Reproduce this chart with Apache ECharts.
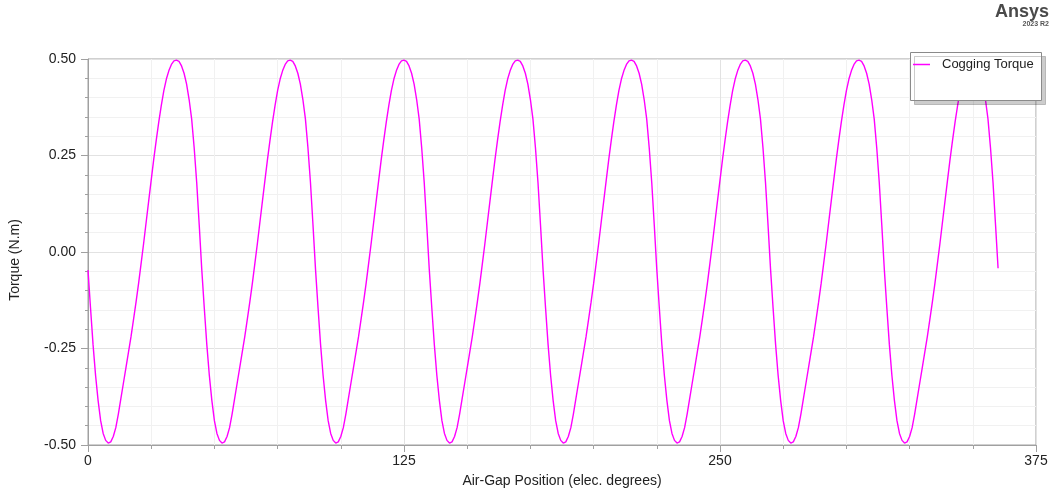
<!DOCTYPE html>
<html>
<head>
<meta charset="utf-8">
<script src="https://cdn.jsdelivr.net/npm/echarts@6/dist/echarts.min.js"></script>
<style>
  html, body { margin: 0; padding: 0; background: #ffffff; }
  #chart { width: 1055px; height: 497px; }
</style>
</head>
<body>
<div id="chart"></div>
<script>
// Cogging torque sampled every degree of electrical air-gap position (0..360)
const angleStep = 1;
const torque = [
  -0.047, -0.145, -0.240, -0.320, -0.385, -0.437, -0.470, -0.488, -0.495, -0.492, -0.478, -0.455, -0.420, -0.380, -0.340, -0.300, -0.260, -0.220, -0.175, -0.130, -0.082, -0.030, 0.022, 0.077, 0.132, 0.186, 0.240, 0.290, 0.337, 0.380, 0.418, 0.448, 0.470, 0.486, 0.495, 0.497, 0.494, 0.482, 0.463, 0.435, 0.395, 0.345, 0.270, 0.180, 0.070,
  -0.045, -0.145, -0.240, -0.320, -0.385, -0.437, -0.470, -0.488, -0.495, -0.492, -0.478, -0.455, -0.420, -0.380, -0.340, -0.300, -0.260, -0.220, -0.175, -0.130, -0.082, -0.030, 0.022, 0.077, 0.132, 0.186, 0.240, 0.290, 0.337, 0.380, 0.418, 0.448, 0.470, 0.486, 0.495, 0.497, 0.494, 0.482, 0.463, 0.435, 0.395, 0.345, 0.270, 0.180, 0.070,
  -0.045, -0.145, -0.240, -0.320, -0.385, -0.437, -0.470, -0.488, -0.495, -0.492, -0.478, -0.455, -0.420, -0.380, -0.340, -0.300, -0.260, -0.220, -0.175, -0.130, -0.082, -0.030, 0.022, 0.077, 0.132, 0.186, 0.240, 0.290, 0.337, 0.380, 0.418, 0.448, 0.470, 0.486, 0.495, 0.497, 0.494, 0.482, 0.463, 0.435, 0.395, 0.345, 0.270, 0.180, 0.070,
  -0.045, -0.145, -0.240, -0.320, -0.385, -0.437, -0.470, -0.488, -0.495, -0.492, -0.478, -0.455, -0.420, -0.380, -0.340, -0.300, -0.260, -0.220, -0.175, -0.130, -0.082, -0.030, 0.022, 0.077, 0.132, 0.186, 0.240, 0.290, 0.337, 0.380, 0.418, 0.448, 0.470, 0.486, 0.495, 0.497, 0.494, 0.482, 0.463, 0.435, 0.395, 0.345, 0.270, 0.180, 0.070,
  -0.045, -0.145, -0.240, -0.320, -0.385, -0.437, -0.470, -0.488, -0.495, -0.492, -0.478, -0.455, -0.420, -0.380, -0.340, -0.300, -0.260, -0.220, -0.175, -0.130, -0.082, -0.030, 0.022, 0.077, 0.132, 0.186, 0.240, 0.290, 0.337, 0.380, 0.418, 0.448, 0.470, 0.486, 0.495, 0.497, 0.494, 0.482, 0.463, 0.435, 0.395, 0.345, 0.270, 0.180, 0.070,
  -0.045, -0.145, -0.240, -0.320, -0.385, -0.437, -0.470, -0.488, -0.495, -0.492, -0.478, -0.455, -0.420, -0.380, -0.340, -0.300, -0.260, -0.220, -0.175, -0.130, -0.082, -0.030, 0.022, 0.077, 0.132, 0.186, 0.240, 0.290, 0.337, 0.380, 0.418, 0.448, 0.470, 0.486, 0.495, 0.497, 0.494, 0.482, 0.463, 0.435, 0.395, 0.345, 0.270, 0.180, 0.070,
  -0.045, -0.145, -0.240, -0.320, -0.385, -0.437, -0.470, -0.488, -0.495, -0.492, -0.478, -0.455, -0.420, -0.380, -0.340, -0.300, -0.260, -0.220, -0.175, -0.130, -0.082, -0.030, 0.022, 0.077, 0.132, 0.186, 0.240, 0.290, 0.337, 0.380, 0.418, 0.448, 0.470, 0.486, 0.495, 0.497, 0.494, 0.482, 0.463, 0.435, 0.395, 0.345, 0.270, 0.180, 0.070,
  -0.045, -0.145, -0.240, -0.320, -0.385, -0.437, -0.470, -0.488, -0.495, -0.492, -0.478, -0.455, -0.420, -0.380, -0.340, -0.300, -0.260, -0.220, -0.175, -0.130, -0.082, -0.030, 0.022, 0.077, 0.132, 0.186, 0.240, 0.290, 0.337, 0.380, 0.418, 0.448, 0.470, 0.486, 0.495, 0.497, 0.494, 0.482, 0.463, 0.435, 0.395, 0.345, 0.270, 0.180, 0.070,
  -0.042
];

const seriesName = 'Cogging Torque';
const xTitle = 'Air-Gap Position (elec. degrees)';
const yTitle = 'Torque (N.m)';
const xRange = [0, 375];
const xMajor = 125;
const yRange = [-0.5, 0.5];
const yMajor = 0.25;

const points = torque.map((v, i) => [i * angleStep, v]);

const FONT = '"Liberation Sans", Arial, sans-serif';
const axisGray = '#a0a0a0';

const chart = echarts.init(document.getElementById('chart'), null, { renderer: 'canvas' });

chart.setOption({
  animation: false,
  backgroundColor: '#ffffff',
  grid: {
    left: 88, right: 19, top: 59, bottom: 52,
    show: true, borderColor: axisGray, borderWidth: 1, backgroundColor: 'transparent'
  },
  xAxis: {
    type: 'value',
    min: xRange[0], max: xRange[1], interval: xMajor,
    axisLine: { show: true, onZero: false, lineStyle: { color: axisGray, width: 1 } },
    axisTick: { show: true, length: 7, lineStyle: { color: axisGray } },
    minorTick: { show: true, splitNumber: 5, length: 4, lineStyle: { color: axisGray } },
    splitLine: { show: true, lineStyle: { color: '#e2e2e2', width: 1 } },
    minorSplitLine: { show: true, lineStyle: { color: '#f1f1f1', width: 1 } },
    axisLabel: { fontSize: 14, color: '#222', margin: 9, fontFamily: FONT }
  },
  yAxis: {
    type: 'value',
    min: yRange[0], max: yRange[1], interval: yMajor,
    axisLine: { show: true, onZero: false, lineStyle: { color: axisGray, width: 1 } },
    axisTick: { show: true, length: 7, lineStyle: { color: axisGray } },
    minorTick: { show: true, splitNumber: 5, length: 3, lineStyle: { color: axisGray } },
    splitLine: { show: true, lineStyle: { color: '#e2e2e2', width: 1 } },
    minorSplitLine: { show: true, lineStyle: { color: '#f1f1f1', width: 1 } },
    axisLabel: {
      fontSize: 14, color: '#222', margin: 12, fontFamily: FONT,
      formatter: v => v.toFixed(2)
    }
  },
  legend: {
    data: [seriesName],
    left: 913, top: 58,
    icon: 'rect', itemWidth: 17, itemHeight: 1.5,
    padding: 0,
    textStyle: { fontSize: 13, color: '#222', fontFamily: FONT, padding: [0, 0, 0, 7] },
    z: 30
  },
  graphic: [
    {
      type: 'rect', z: 20, silent: true,
      shape: { x: 910.5, y: 52.5, width: 131, height: 48 },
      style: {
        fill: '#ffffff', stroke: '#8a8a8a', lineWidth: 1,
        shadowColor: 'rgba(0,0,0,0.2)', shadowOffsetX: 4, shadowOffsetY: 4, shadowBlur: 0
      }
    },
    {
      type: 'text', z: 20, silent: true,
      style: {
        x: 15, y: 260, text: yTitle, fontSize: 14, fontFamily: FONT, fill: '#222',
        textAlign: 'center', textVerticalAlign: 'middle'
      },
      rotation: Math.PI / 2, originX: 15, originY: 260
    },
    {
      type: 'text', z: 20, silent: true,
      style: {
        x: 562, y: 481, text: xTitle, fontSize: 14, fontFamily: FONT, fill: '#222',
        textAlign: 'center', textVerticalAlign: 'middle'
      }
    },
    {
      type: 'text', z: 20, silent: true,
      style: {
        x: 1049, y: 12, text: 'Ansys', fontSize: 18, fontWeight: 'bold', fontFamily: FONT, fill: '#4a4a4a',
        textAlign: 'right', textVerticalAlign: 'middle'
      }
    },
    {
      type: 'text', z: 20, silent: true,
      style: {
        x: 1049, y: 24.5, text: '2023 R2', fontSize: 7, fontWeight: 'bold', fontFamily: FONT, fill: '#555',
        textAlign: 'right', textVerticalAlign: 'middle'
      }
    }
  ],
  series: [
    {
      name: seriesName,
      type: 'line',
      data: points,
      showSymbol: false,
      symbol: 'none',
      lineStyle: { color: '#ff00ff', width: 1.4 },
      itemStyle: { color: '#ff00ff' },
      z: 2
    }
  ]
});
</script>
</body>
</html>
